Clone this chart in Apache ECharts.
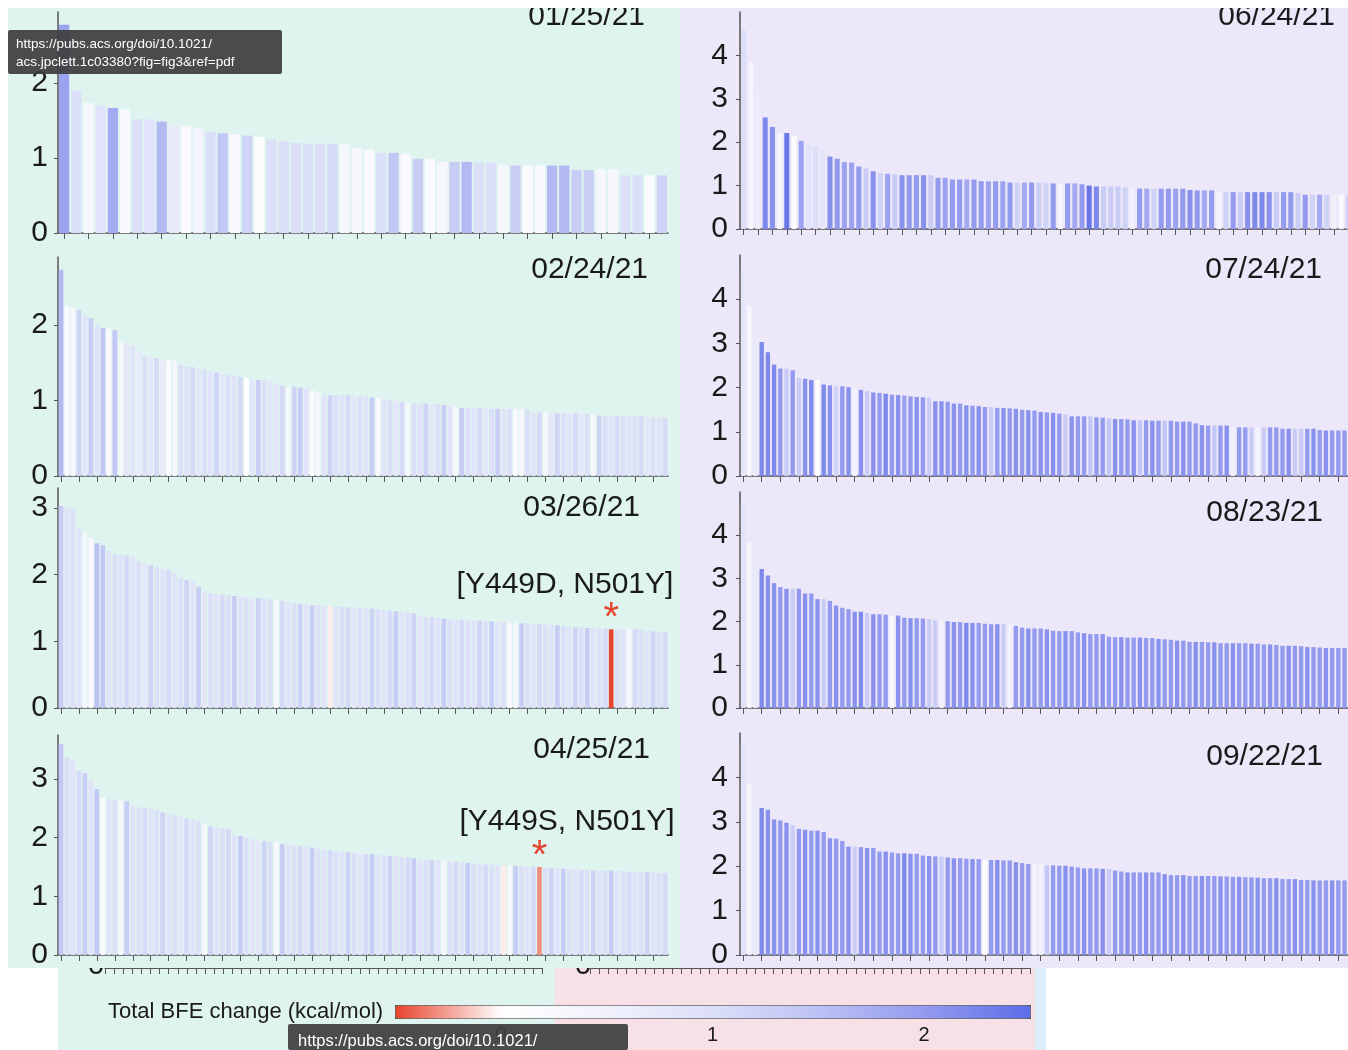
<!DOCTYPE html>
<html>
<head>
<meta charset="utf-8">
<title>Total BFE change by date</title>
<script src="https://cdn.jsdelivr.net/npm/echarts@6/dist/echarts.min.js"></script>
<style>
html, body {margin: 0; padding: 0; background: #fff;}
#main {width: 1348px; height: 1050px;}
</style>
</head>
<body>
<div id="main"></div>
<script>
// 每个日期: 柱高 (h) 和 总BFE变化 (c, 用于颜色)
var dates = ['01/25/21', '02/24/21', '03/26/21', '04/25/21', '06/24/21', '07/24/21', '08/23/21', '09/22/21'];

var h0125 = [2.78,1.90,1.74,1.70,1.67,1.65,1.52,1.52,1.49,1.44,1.43,1.39,1.35,1.33,1.32,1.30,1.28,1.25,1.22,1.20,1.19,1.19,1.19,1.18,1.13,
    1.11,1.07,1.07,1.05,0.99,0.99,0.95,0.95,0.95,0.94,0.94,0.91,0.90,0.90,0.90,0.90,0.90,0.84,0.84,0.85,0.85,0.77,0.77,0.77,0.77];
var c0125 = [1.9,1.0,0.3,0.9,1.8,0.2,1.0,0.9,1.6,0.7,0.2,0.4,1.0,1.4,0.2,1.2,0.1,1.0,1.0,1.0,1.0,1.0,1.1,0.3,0.3,
    0.2,1.0,1.4,0.2,1.3,0.2,0.3,1.3,1.6,1.0,1.0,0.3,1.3,0.2,0.2,1.6,1.6,1.3,1.3,0.3,0.3,1.0,1.0,0.2,1.2];

var h0224 = [2.73,2.25,2.23,2.20,2.13,2.09,2.00,1.96,1.95,1.93, 1.78,1.75,1.72,1.65,1.59,1.57,1.56,1.54,1.53,1.53,
    1.47,1.45,1.44,1.42,1.41,1.39,1.37,1.35,1.34,1.33, 1.31,1.30,1.28,1.27,1.27,1.25,1.22,1.20,1.18,1.18,
    1.17,1.16,1.13,1.10,1.08,1.07,1.07,1.07,1.07,1.07, 1.06,1.05,1.04,1.03,1.02,1.00,0.99,0.98,0.97,0.96,
    0.96,0.96,0.95,0.95,0.94,0.93,0.92,0.90,0.90,0.90, 0.90,0.90,0.89,0.89,0.89,0.89,0.89,0.89,0.88,0.84,
    0.84,0.84,0.83,0.83,0.83,0.83,0.83,0.83,0.82,0.82, 0.80,0.79,0.79,0.79,0.79,0.79,0.79,0.79,0.79,0.78,
    0.78,0.77];
var c0224 = [1.6,0.2,0.3,1.2,0.9,1.3,0.9,1.4,0.2,1.4, 0.3,0.8,0.9,0.7,1.0,0.8,1.1,0.7,0.2,0.3,
    1.0,0.9,1.1,0.8,1.0,0.9,1.2,0.8,1.0,0.9, 1.1,0.0,0.8,1.3,1.0,0.9,0.8,1.1,0.3,1.2,
    1.3,0.9,0.2,0.3,0.9,1.2,1.0,0.9,1.1,0.8, 1.0,0.9,1.3,0.2,0.9,1.0,0.8,1.1,0.3,1.0,
    0.9,1.2,0.8,1.0,1.3,0.9,0.3,1.3,1.0,0.9, 1.1,0.8,1.0,1.3,0.9,1.0,0.2,0.3,1.0,0.9,
    1.1,0.3,0.8,1.2,1.0,0.9,1.1,0.8,1.0,0.3, 1.2,1.0,0.9,1.1,1.0,0.9,1.0,1.1,0.8,1.0,
    0.9,1.1];

var h0326 = [3.03,3.02,2.98,2.70,2.62,2.55,2.47,2.44,2.35,2.31, 2.30,2.29,2.27,2.20,2.17,2.14,2.11,2.09,2.07,2.03,
    1.95,1.92,1.90,1.82,1.76,1.72,1.71,1.70,1.69,1.68, 1.67,1.66,1.65,1.65,1.64,1.63,1.62,1.61,1.59,1.57,
    1.56,1.55,1.54,1.54,1.53,1.53,1.52,1.52,1.51,1.51, 1.50,1.50,1.49,1.48,1.47,1.46,1.45,1.44,1.43,1.42,
    1.39,1.37,1.36,1.35,1.34,1.33,1.32,1.32,1.31,1.31, 1.31,1.30,1.30,1.29,1.29,1.28,1.28,1.27,1.27,1.26,
    1.26,1.25,1.25,1.24,1.23,1.22,1.21,1.21,1.20,1.20, 1.19,1.19,1.18,1.18,1.18,1.18,1.18,1.17,1.15,1.15,
    1.14,1.14];
var c0326 = [1.3,0.9,1.0,0.9,0.3,0.2,1.5,1.4,0.9,1.0, 0.9,1.1,0.9,1.0,0.8,1.2,1.0,0.9,1.1,0.9,
    1.0,1.2,0.9,1.3,0.8,1.0,0.9,1.1,1.0,1.3, 0.9,1.0,0.8,1.2,0.9,1.0,0.3,1.1,0.9,1.0,
    1.2,0.9,1.3,1.0,0.9,-0.05,0.9,1.0,1.1,0.8, 1.0,0.9,1.2,1.0,0.9,1.1,1.3,0.9,1.0,1.2,
    0.9,1.0,1.1,0.9,1.3,1.0,0.9,1.1,1.0,0.9, 1.2,1.0,1.3,0.9,1.0,0.2,0.3,1.3,1.0,0.9,
    1.1,1.0,0.9,1.3,1.0,0.9,1.2,1.0,1.3,0.9, 1.0,1.1,-0.5,1.0,0.9,0.3,1.1,1.0,0.9,1.2,
    1.0,1.1];

var h0425 = [3.60,3.37,3.33,3.14,3.10,2.97,2.83,2.68,2.66,2.65, 2.63,2.62,2.55,2.52,2.50,2.49,2.47,2.43,2.40,2.38,
    2.35,2.33,2.31,2.28,2.22,2.19,2.17,2.16,2.15,2.05, 2.03,2.00,1.98,1.95,1.94,1.93,1.93,1.89,1.88,1.87,
    1.86,1.85,1.83,1.81,1.80,1.79,1.77,1.76,1.75,1.74, 1.73,1.72,1.72,1.71,1.70,1.69,1.68,1.67,1.66,1.65,
    1.63,1.62,1.62,1.61,1.60,1.59,1.59,1.58,1.57,1.56, 1.55,1.54,1.54,1.53,1.53,1.53,1.52,1.51,1.51,1.51,
    1.50,1.49,1.48,1.47,1.47,1.46,1.46,1.45,1.45,1.45, 1.44,1.44,1.44,1.43,1.43,1.42,1.42,1.41,1.41,1.41,
    1.40,1.40];
var c0425 = [1.4,1.0,0.9,1.1,1.3,0.9,1.4,0.2,0.9,1.0, 0.3,1.3,0.9,1.0,1.1,0.9,1.0,1.2,0.9,1.0,
    0.8,1.1,0.9,1.0,0.3,1.2,0.9,1.0,1.1,0.9, 1.3,1.0,0.9,0.8,1.2,1.0,0.3,1.3,0.9,1.0,
    1.1,0.9,1.3,1.0,0.9,1.1,1.0,0.9,1.2,1.0, 0.9,1.1,1.3,0.9,1.0,1.2,0.9,1.0,1.1,1.3,
    0.9,1.0,1.2,0.9,0.3,1.0,1.1,0.9,1.3,1.0, 0.9,1.1,1.0,0.9,-0.05,0.3,1.3,1.0,0.9,1.1,
    -0.3,1.0,1.2,0.9,1.3,1.0,0.9,1.1,1.0,1.2, 0.9,1.0,1.3,0.9,1.0,1.1,0.9,1.0,1.2,0.9,
    1.0,1.1];

var h0624 = [4.58,3.83,3.15,2.57,2.35,2.21,2.21,2.15,2.03,1.93, 1.90,1.81,1.67,1.62,1.54,1.53,1.44,1.40,1.33,1.29,
    1.27,1.26,1.24,1.24,1.24,1.24,1.24,1.18,1.18,1.14, 1.14,1.14,1.14,1.10,1.10,1.10,1.10,1.07,1.07,1.07,
    1.07,1.07,1.07,1.05,1.05,1.05,1.05,1.03,1.00,0.98, 0.98,0.98,0.98,0.96,0.93,0.93,0.93,0.93,0.93,0.93,
    0.93,0.93,0.90,0.89,0.89,0.89,0.87,0.85,0.85,0.85, 0.85,0.85,0.85,0.85,0.85,0.85,0.85,0.83,0.79,0.79,
    0.79,0.79,0.79,0.79,0.78];
var c0624 = [1.0,0.3,0.6,2.2,2.1,0.3,2.4,0.1,1.9,0.9, 1.0,0.8,2.1,2.0,1.9,1.9,2.0,1.3,2.1,1.2,
    1.9,1.3,2.1,2.0,2.0,2.1,1.3,2.0,1.9,2.0, 2.0,1.8,2.0,2.0,1.9,2.0,1.9,2.0,1.2,1.8,
    2.0,1.3,1.2,2.0,0.4,2.0,1.8,2.0,2.4,2.2, 1.3,1.3,1.3,1.2,0.5,2.0,1.8,1.2,2.0,2.0,
    1.9,2.0,2.1,2.0,1.8,2.0,0.4,1.2,2.0,1.3, 2.1,2.2,2.2,2.1,1.3,2.0,2.0,1.3,2.0,1.2,
    1.8,1.2,0.5,0.2,1.2];

var h0724 = [4.70,3.85,3.42,3.03,2.80,2.52,2.43,2.43,2.39,2.22, 2.20,2.17,2.17,2.07,2.05,2.03,2.03,2.01,1.97,1.95,
    1.92,1.89,1.88,1.86,1.84,1.83,1.82,1.80,1.79,1.78, 1.77,1.69,1.69,1.68,1.64,1.64,1.60,1.59,1.58,1.56,
    1.56,1.54,1.54,1.53,1.52,1.50,1.49,1.48,1.45,1.44, 1.43,1.41,1.39,1.35,1.35,1.35,1.35,1.33,1.32,1.30,
    1.29,1.29,1.28,1.26,1.26,1.26,1.25,1.25,1.25,1.25, 1.23,1.23,1.23,1.19,1.15,1.14,1.14,1.14,1.14,1.10,
    1.10,1.10,1.10,1.10,1.10,1.10,1.10,1.07,1.07,1.07, 1.07,1.07,1.07,1.04,1.03,1.03,1.03,1.03,1.03,1.03];
var c0724 = [0.8,0.3,0.7,2.2,2.2,2.2,2.0,1.3,2.0,1.3, 2.1,2.2,0.0,2.2,2.1,1.2,2.0,2.1,0.4,2.1,
    1.3,2.1,2.0,2.2,2.0,2.1,1.9,2.0,2.1,2.0, 1.3,2.1,2.1,2.0,2.1,2.0,2.1,2.0,2.1,2.0,
    1.3,2.0,2.1,2.0,2.1,2.0,2.1,2.0,2.1,2.0, 2.1,2.0,1.3,2.1,2.0,2.0,1.4,2.0,2.0,1.4,
    2.1,2.0,2.0,2.1,1.4,2.0,2.1,2.0,1.4,2.0, 2.0,2.1,2.0,2.0,2.1,2.0,1.4,2.0,2.1,0.5,
    2.0,2.0,1.3,0.4,1.3,2.0,2.0,2.0,2.1,1.3, 1.3,2.0,2.1,2.0,2.1,2.0,2.0,2.0,2.1,2.0];

var h0823 = [4.70,3.83,3.50,3.22,3.07,2.89,2.80,2.76,2.76,2.76, 2.65,2.65,2.52,2.52,2.48,2.37,2.32,2.29,2.23,2.23,
    2.20,2.17,2.17,2.16,2.14,2.14,2.09,2.08,2.08,2.07, 2.06,2.03,2.02,2.01,1.99,1.99,1.97,1.97,1.97,1.95,
    1.94,1.94,1.94,1.94,1.90,1.86,1.84,1.84,1.84,1.82, 1.79,1.78,1.78,1.78,1.75,1.73,1.71,1.71,1.71,1.65,
    1.64,1.64,1.63,1.63,1.63,1.62,1.62,1.60,1.59,1.58, 1.56,1.56,1.53,1.53,1.53,1.52,1.52,1.50,1.50,1.50,
    1.50,1.50,1.49,1.49,1.47,1.47,1.46,1.44,1.44,1.44, 1.43,1.41,1.41,1.40,1.39,1.39,1.39,1.39,1.38,1.38];
var c0823 = [0.9,0.3,0.7,2.2,2.1,2.1,2.0,2.1,1.3,2.0, 2.1,2.0,2.1,1.3,2.0,2.1,2.0,2.0,2.1,2.2,
    1.3,2.1,2.0,2.0,0.3,2.1,2.0,2.1,2.0,2.0, 1.3,1.3,0.5,2.0,2.1,2.0,2.2,2.1,2.0,2.0,
    2.0,2.1,1.3,0.5,2.0,2.0,2.1,2.0,2.0,2.1, 2.0,2.0,2.1,2.0,2.0,2.1,2.0,2.0,2.1,2.0,
    2.0,2.1,2.0,2.0,2.1,2.0,2.0,2.1,2.0,2.0, 2.1,2.0,2.0,2.1,2.0,2.0,2.1,2.0,2.0,2.1,
    2.0,2.0,2.1,2.0,2.0,2.1,2.0,2.0,2.1,2.0, 2.0,2.1,2.0,2.0,2.1,2.0,2.0,2.0,2.1,2.0];

var h0922 = [4.74,3.87,3.57,3.31,3.27,3.05,3.03,2.98,2.93,2.84, 2.82,2.80,2.80,2.77,2.63,2.62,2.57,2.44,2.44,2.43,
    2.41,2.41,2.33,2.33,2.31,2.29,2.29,2.28,2.28,2.24, 2.23,2.22,2.22,2.20,2.18,2.18,2.17,2.16,2.16,2.14,
    2.14,2.14,2.13,2.13,2.09,2.07,2.05,2.05,2.05,2.02, 2.02,2.01,2.01,1.99,1.97,1.95,1.95,1.95,1.94,1.94,
    1.90,1.88,1.86,1.86,1.86,1.86,1.86,1.86,1.82,1.80, 1.80,1.80,1.78,1.78,1.78,1.78,1.78,1.77,1.77,1.76,
    1.76,1.75,1.75,1.74,1.73,1.73,1.73,1.71,1.71,1.71, 1.69,1.69,1.68,1.68,1.68,1.68,1.68,1.68,1.67,1.67];
var c0922 = [0.9,0.3,0.7,2.2,2.1,2.1,2.0,2.1,1.3,2.0, 2.1,2.0,2.1,2.0,2.1,2.0,2.0,2.1,1.3,2.0,
    2.1,2.0,2.0,2.1,2.0,2.0,2.2,2.1,2.0,2.0, 2.1,2.0,1.3,2.0,2.1,2.0,2.0,2.1,2.0,0.0,
    2.0,2.1,2.0,2.0,2.1,2.0,2.0,0.4,0.5,1.4, 2.0,2.0,2.1,2.0,2.0,2.1,2.0,2.0,2.1,1.3,
    2.0,2.0,2.1,2.0,2.0,2.1,2.0,2.0,2.1,2.0, 2.0,2.1,2.0,2.0,2.1,2.0,2.0,2.1,2.0,2.0,
    2.1,2.0,2.0,2.1,2.0,2.0,2.1,2.0,2.0,2.1, 2.0,2.0,2.1,2.0,2.0,2.1,2.0,2.0,2.0,2.1];

// 标记的突变 (星号)
var marks = [
    {panel: 2, index: 92, text: '[Y449D, N501Y]'},
    {panel: 3, index: 80, text: '[Y449S, N501Y]'}
];

// 色标
var bfeMin = -0.5, bfeMax = 2.5;
var bfeColors = ['#e8432c', '#ffffff', '#f0f1fc', '#dcdff8', '#bcc1f4', '#939bef', '#5d6de6'];
var bfeTicks = [0, 1, 2];

var FONT = '"Liberation Sans", Arial, Helvetica, sans-serif';
var MINT = '#dff4ef', LAV = '#ede7fa';

// 面板布局
var panels = [
    {h: h0125, c: c0125, max: 2.95, left: 58,  top: 12,  width: 610, height: 221, tick: 1, gap: '16%', tx: 645,  ty: 17},
    {h: h0224, c: c0224, max: 2.9,  left: 58,  top: 257, width: 610, height: 219, tick: 2, gap: '22%', tx: 648,  ty: 270},
    {h: h0326, c: c0326, max: 3.3,  left: 58,  top: 488, width: 610, height: 220, tick: 2, gap: '22%', tx: 640,  ty: 508},
    {h: h0425, c: c0425, max: 3.75, left: 58,  top: 735, width: 610, height: 220, tick: 2, gap: '22%', tx: 650,  ty: 750},
    {h: h0624, c: c0624, max: 5,    left: 740, top: 12,  width: 612, height: 217, tick: 1, gap: '30%', tx: 1335, ty: 17},
    {h: h0724, c: c0724, max: 5,    left: 740, top: 255, width: 620, height: 221, tick: 2, gap: '30%', tx: 1322, ty: 270},
    {h: h0823, c: c0823, max: 5,    left: 740, top: 492, width: 620, height: 216, tick: 2, gap: '30%', tx: 1323, ty: 513},
    {h: h0922, c: c0922, max: 5,    left: 740, top: 733, width: 620, height: 222, tick: 2, gap: '30%', tx: 1323, ty: 757}
];

function buildData(h, c, markIndex) {
    var data = [];
    for (var i = 0; i < h.length; i++) {
        var item = {value: [i, h[i], c[i]]};
        if (i === markIndex) {
            item.label = {show: true, position: 'top', distance: -10, formatter: '*',
                color: '#e8432c', fontSize: 40, fontFamily: FONT};
        }
        data.push(item);
    }
    return data;
}

function markFor(p) {
    for (var k = 0; k < marks.length; k++) {
        if (marks[k].panel === p) return marks[k];
    }
    return null;
}

var option = {
    animation: false,
    backgroundColor: '#fff',
    textStyle: {fontFamily: FONT},
    grid: [], xAxis: [], yAxis: [], series: [],
    graphic: []
};

var axisCol = '#555';
var seriesIdx = [];

for (var p = 0; p < panels.length; p++) {
    var cfg = panels[p];
    var mk = markFor(p);
    var cats = [];
    for (var i = 0; i < cfg.h.length; i++) cats.push(i);

    option.grid.push({left: cfg.left, top: cfg.top, width: cfg.width, height: cfg.height, outerBoundsMode: 'none', containLabel: false});
    option.xAxis.push({
        type: 'category', gridIndex: p, data: cats,
        axisLine: {lineStyle: {color: axisCol, width: 1.5}},
        axisTick: {show: true, interval: cfg.tick, alignWithLabel: true, length: 6, lineStyle: {color: axisCol}},
        axisLabel: {show: false},
        splitLine: {show: false}
    });
    option.yAxis.push({
        type: 'value', gridIndex: p, min: 0, max: cfg.max, interval: 1,
        axisLine: {show: true, lineStyle: {color: axisCol, width: 1.5}},
        axisTick: {show: true, length: 4, lineStyle: {color: axisCol}},
        axisLabel: {color: '#1a1a1a', fontSize: 30, fontFamily: FONT, margin: cfg.left > 600 ? 12 : 10, showMaxLabel: false},
        splitLine: {show: false}
    });
    option.series.push({
        type: 'bar', xAxisIndex: p, yAxisIndex: p,
        barCategoryGap: cfg.gap,
        data: buildData(cfg.h, cfg.c, mk ? mk.index : -1)
    });
    seriesIdx.push(p);

    // 日期标题
    option.graphic.push({
        type: 'text', z: 10, x: cfg.tx, y: cfg.ty,
        style: {text: dates[p], fill: '#1a1a1a', font: '30px ' + FONT, textAlign: 'right', textVerticalAlign: 'middle'}
    });
}

// 突变标注文字
option.graphic.push({type: 'text', z: 10, x: 565, y: 585,
    style: {text: marks[0].text, fill: '#1a1a1a', font: '30px ' + FONT, textAlign: 'center', textVerticalAlign: 'middle'}});
option.graphic.push({type: 'text', z: 10, x: 567, y: 822,
    style: {text: marks[1].text, fill: '#1a1a1a', font: '30px ' + FONT, textAlign: 'center', textVerticalAlign: 'middle'}});

// 色标刻度 (grid 8)
option.grid.push({left: 395, top: 1018, width: 635, height: 1, outerBoundsMode: 'none'});
option.xAxis.push({
    type: 'value', gridIndex: 8, min: bfeMin, max: bfeMax, interval: 0.5,
    axisLine: {show: false}, axisTick: {show: false}, splitLine: {show: false},
    axisLabel: {color: '#1a1a1a', fontSize: 20, margin: 6, fontFamily: FONT,
        formatter: function (v) { return bfeTicks.indexOf(v) >= 0 ? String(v) : ''; }}
});
option.yAxis.push({type: 'value', gridIndex: 8, show: false});

// 底部残留的坐标轴 (grid 9, 10)
var stubs = [{left: 105, width: 437}, {left: 590, width: 440}];
for (var s = 0; s < stubs.length; s++) {
    option.grid.push({left: stubs[s].left, top: 960, width: stubs[s].width, height: 8, outerBoundsMode: 'none'});
    option.xAxis.push({
        type: 'value', gridIndex: 9 + s, min: 0, max: 48, interval: 1,
        axisLine: {lineStyle: {color: axisCol, width: 1.2}},
        axisTick: {length: 6, lineStyle: {color: axisCol}},
        axisLabel: {show: false}, splitLine: {show: false}
    });
    option.yAxis.push({type: 'value', gridIndex: 9 + s, show: false, min: 0, max: 1});
}

option.visualMap = {
    type: 'continuous', min: bfeMin, max: bfeMax, dimension: 2,
    seriesIndex: seriesIdx, orient: 'horizontal',
    left: 395, top: 1005, itemWidth: 13, itemHeight: 635,
    calculable: false, hoverLink: false, padding: 0,
    borderColor: '#444', borderWidth: 1,
    inRange: {color: bfeColors}
};

// 背景
option.graphic.push(
    {type: 'rect', z: -12, shape: {x: 58, y: 968, width: 497, height: 82}, style: {fill: MINT}},
    {type: 'rect', z: -12, shape: {x: 555, y: 968, width: 480, height: 82}, style: {fill: '#f8e1e6'}},
    {type: 'rect', z: -12, shape: {x: 1035, y: 968, width: 11, height: 82}, style: {fill: '#dbeef9'}},
    {type: 'text', z: -11, x: 96, y: 966, style: {text: '0', fill: '#1a1a1a', font: '30px ' + FONT, textAlign: 'center', textVerticalAlign: 'middle'}},
    {type: 'text', z: -11, x: 583, y: 966, style: {text: '0', fill: '#1a1a1a', font: '30px ' + FONT, textAlign: 'center', textVerticalAlign: 'middle'}},
    {type: 'rect', z: -10, shape: {x: 8, y: 8, width: 672, height: 960}, style: {fill: MINT}},
    {type: 'rect', z: -10, shape: {x: 680, y: 8, width: 668, height: 960}, style: {fill: LAV}},
    {type: 'text', z: 10, x: 108, y: 1012, style: {text: 'Total BFE change (kcal/mol)', fill: '#1a1a1a', font: '22px ' + FONT, textVerticalAlign: 'middle'}},
    // 顶部白边
    {type: 'rect', z: 50, shape: {x: 0, y: 0, width: 1348, height: 8}, style: {fill: '#fff'}},
    // 截图里的链接提示框
    {type: 'rect', z: 100, shape: {x: 8, y: 30, width: 274, height: 44, r: 2}, style: {fill: 'rgba(62,62,62,0.93)'}},
    {type: 'text', z: 101, x: 16, y: 44, style: {text: 'https://pubs.acs.org/doi/10.1021/', fill: '#fff', font: '13.5px ' + FONT, textVerticalAlign: 'middle'}},
    {type: 'text', z: 101, x: 16, y: 62, style: {text: 'acs.jpclett.1c03380?fig=fig3&ref=pdf', fill: '#fff', font: '13.5px ' + FONT, textVerticalAlign: 'middle'}},
    {type: 'rect', z: 100, shape: {x: 288, y: 1024, width: 340, height: 26, r: 2}, style: {fill: 'rgba(62,62,62,0.93)'}},
    {type: 'text', z: 101, x: 298, y: 1041, style: {text: 'https://pubs.acs.org/doi/10.1021/', fill: '#fff', font: '16.5px ' + FONT, textVerticalAlign: 'middle'}}
);

var myChart = echarts.init(document.getElementById('main'));
myChart.setOption(option);
</script>
</body>
</html>
